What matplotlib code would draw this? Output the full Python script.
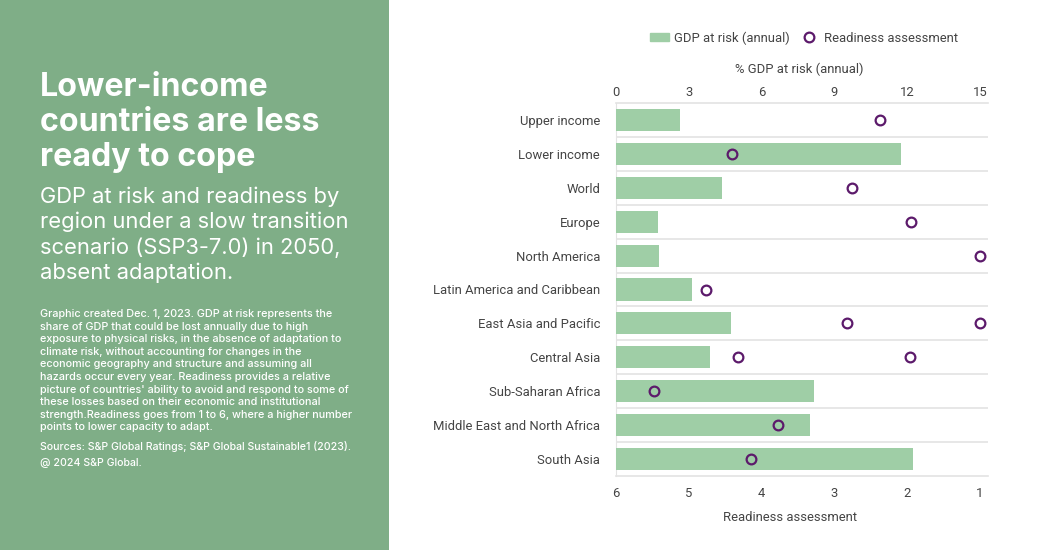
import numpy as np
import matplotlib
matplotlib.use("Agg")
import matplotlib.pyplot as plt
from matplotlib.patches import Patch, Rectangle
from matplotlib.lines import Line2D

regions = ["Upper income", "Lower income", "World", "Europe", "North America",
           "Latin America and Caribbean", "East Asia and Pacific", "Central Asia",
           "Sub-Saharan Africa", "Middle East and North Africa", "South Asia"]
gdp_at_risk = [2.65, 11.74, 4.37, 1.73, 1.77, 3.13, 4.74, 3.87, 8.16, 7.99, 12.24]
readiness = [2.37, 4.41, 2.76, 1.95, 1.0, 4.76, 2.83, 4.33, 5.48, 3.77, 4.15]
# a couple of regions carry a second marker
readiness_extra = [np.nan, np.nan, np.nan, np.nan, np.nan, np.nan, 1.0, 1.96, np.nan, np.nan, np.nan]
gdp_ticks = [0, 3, 6, 9, 12, 15]
readiness_ticks = [6, 5, 4, 3, 2, 1]

title_lines = ["Lower-income", "countries are less", "ready to cope"]
subtitle_lines = ["GDP at risk and readiness by", "region under a slow transition",
                  "scenario (SSP3-7.0) in 2050,", "absent adaptation."]
note_lines = ["Graphic created Dec. 1, 2023. GDP at risk represents the",
              "share of GDP that could be lost annually due to high",
              "exposure to physical risks, in the absence of adaptation to",
              "climate risk, without accounting for changes in the",
              "economic geography and structure and assuming all",
              "hazards occur every year. Readiness provides a relative",
              "picture of countries' ability to avoid and respond to some of",
              "these losses based on their economic and institutional",
              "strength.Readiness goes from 1 to 6, where a higher number",
              "points to lower capacity to adapt."]
source_lines = ["Sources: S&P Global Ratings; S&P Global Sustainable1 (2023).",
                "@ 2024 S&P Global."]

PANEL = "#7fae87"
BAR = "#9fcea6"
PURPLE = "#5c1a6b"
GRID = "#e3e3e3"
INK = "#444444"
LABEL_SIZE = 9.4
W, H = 1050, 550

fig = plt.figure(figsize=(10.5, 5.5), dpi=100, facecolor="white")
fig.add_artist(Rectangle((0, 0), 389 / W, 1, transform=fig.transFigure, color=PANEL, lw=0))


def put_lines(lines, first_y, step, **kw):
    for i, line in enumerate(lines):
        fig.text(40 / W, 1 - (first_y + i * step) / H, line, color="white",
                 family="Inter", va="center", ha="left", **kw)


put_lines(title_lines, 87, 35.2, fontsize=23.2, fontweight="bold")
put_lines(subtitle_lines, 197, 25.2, fontsize=15.8)
put_lines(note_lines, 314, 12.6, fontsize=7.8, fontweight="medium")
put_lines(source_lines, 447, 15.5, fontsize=7.6, fontweight="medium")

# plot area: 616..988 px wide, 103..476 px tall; value scale ends at 980 px
ax = fig.add_axes([616 / W, 1 - 476 / H, 372 / W, 373 / H])
ypos = np.arange(len(regions))
ax.barh(ypos, gdp_at_risk, height=0.65, color=BAR, zorder=3)
ax.set_ylim(len(regions) - 0.5, -0.5)
span = 372 / 364
ax.set_xlim(0, 15 * span)
ax.set_yticks(ypos, regions)
ax.set_xticks(gdp_ticks)
for y in np.arange(0.5, len(regions) - 0.5):
    ax.axhline(y, color=GRID, lw=1.2, zorder=1)
for side in ("left", "right"):
    ax.spines[side].set_visible(False)
ax.spines["left"].set_visible(True)
ax.spines["left"].set_color(GRID)
for side in ("top", "bottom"):
    ax.spines[side].set_color(GRID)
    ax.spines[side].set_linewidth(1.2)

ax2 = ax.twiny()
marker_kw = dict(ls="none", marker="o", ms=7, mfc="none", mec=PURPLE, mew=1.6, clip_on=False, zorder=5)
ax2.plot(readiness, ypos, **marker_kw)
ax2.plot(readiness_extra, ypos, **marker_kw)
ax2.set_xlim(6, 6 - 5 * span)
ax2.set_xticks(readiness_ticks)
ax2.xaxis.tick_bottom()
ax2.xaxis.set_label_position("bottom")
ax2.set_xlabel("Readiness assessment", fontsize=LABEL_SIZE, color=INK, family="Roboto")
ax2.xaxis.set_label_coords((790 - 616) / 372, -(511 - 476) / 373, transform=ax.transAxes)
ax2.tick_params(axis="x", length=0, labelsize=LABEL_SIZE, labelcolor=INK, pad=8)
for lab in ax2.get_xticklabels():
    lab.set_family("Roboto")
for spine in ax2.spines.values():
    spine.set_visible(False)

# twiny flips the first axes' ticks back to the bottom, so set the top side here
ax.xaxis.tick_top()
ax.xaxis.set_label_position("top")
ax.set_xlabel("% GDP at risk (annual)", fontsize=LABEL_SIZE, color=INK, family="Roboto")
ax.xaxis.set_label_coords((799 - 616) / 372, (476 - 73) / 373, transform=ax.transAxes)
ax.tick_params(axis="both", length=0, labelsize=LABEL_SIZE, labelcolor=INK)
ax.tick_params(axis="x", pad=3)
ax.tick_params(axis="y", pad=11.5)
for lab in ax.get_xticklabels() + ax.get_yticklabels():
    lab.set_family("Roboto")

handles = [Patch(color=BAR, label="GDP at risk (annual)"),
           Line2D([], [], ls="none", marker="o", ms=7, mfc="none", mec=PURPLE, mew=1.6,
                  label="Readiness assessment")]
fig.legend(handles=handles, loc="center", bbox_to_anchor=(804 / W, 1 - 38 / H), ncol=2, frameon=False,
           prop={"family": "Roboto", "size": LABEL_SIZE}, labelcolor=INK, handlelength=1.4, handleheight=0.6,
           handletextpad=0.45, columnspacing=0.7)

fig.savefig("out.png", dpi=100, facecolor="white")
